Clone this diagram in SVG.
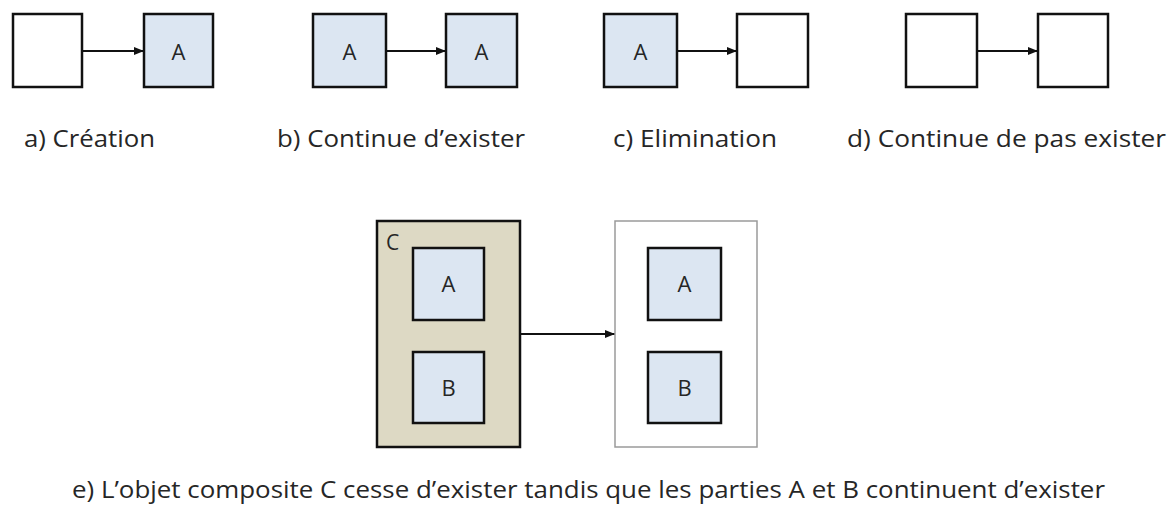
<svg xmlns="http://www.w3.org/2000/svg" width="1168" height="506" viewBox="0 0 1168 506">
<style>
text{font-family:"Open Sans","Liberation Sans",sans-serif;fill:#262626}
.lbl{font-size:23px}
.in{font-size:22px;text-anchor:middle}
.box{stroke:#111;stroke-width:2.5;fill:#fff}
.blue{fill:#dce6f2}
.tan{fill:#ddd9c4}
.thin{stroke:#9a9a9a;stroke-width:1.5;fill:#fff}
.conn{stroke:#111;stroke-width:2;fill:none;marker-end:url(#ah)}
</style>
<defs>
<marker id="ah" markerUnits="userSpaceOnUse" markerWidth="10" markerHeight="8" refX="10" refY="4" orient="auto">
<path d="M0,0 L10,4 L0,8 z" fill="#111"/>
</marker>
</defs>
<rect width="1168" height="506" fill="#fff"/>
<g id="connectors">
<line class="conn" x1="82" y1="51" x2="144" y2="51"/>
<line class="conn" x1="386" y1="51" x2="446" y2="51"/>
<line class="conn" x1="677" y1="51" x2="737" y2="51"/>
<line class="conn" x1="977" y1="51" x2="1038" y2="51"/>
<line class="conn" x1="520" y1="334" x2="615" y2="334"/>
</g>
<g id="a1"><rect class="box" x="13" y="14" width="69" height="73"/></g>
<g id="a2"><rect class="box blue" x="144" y="14" width="69" height="73"/><text class="in" x="178.5" y="60">A</text></g>
<g id="b1"><rect class="box blue" x="313" y="14" width="73" height="73"/><text class="in" x="349.5" y="60">A</text></g>
<g id="b2"><rect class="box blue" x="446" y="14" width="71" height="73"/><text class="in" x="481.5" y="60">A</text></g>
<g id="c1"><rect class="box blue" x="604" y="14" width="73" height="73"/><text class="in" x="640.5" y="60">A</text></g>
<g id="c2"><rect class="box" x="737" y="14" width="71" height="73"/></g>
<g id="d1"><rect class="box" x="906" y="14" width="71" height="73"/></g>
<g id="d2"><rect class="box" x="1038" y="14" width="70" height="73"/></g>
<g id="labels">
<text class="lbl" x="24" y="147" textLength="131" lengthAdjust="spacingAndGlyphs">a) Création</text>
<text class="lbl" x="277" y="147" textLength="248" lengthAdjust="spacingAndGlyphs">b) Continue d’exister</text>
<text class="lbl" x="613" y="147" textLength="164" lengthAdjust="spacingAndGlyphs">c) Elimination</text>
<text class="lbl" x="847" y="147" textLength="319" lengthAdjust="spacingAndGlyphs">d) Continue de pas exister</text>
<text class="lbl" x="72" y="498" textLength="1033" lengthAdjust="spacingAndGlyphs">e) L’objet composite C cesse d’exister tandis que les parties A et B continuent d’exister</text>
</g>
<g id="C">
<rect class="box tan" x="377" y="221" width="143" height="226"/>
<text style="font-size:21px" x="386" y="250">C</text>
</g>
<g id="eA1"><rect class="box blue" x="413" y="248" width="71" height="72"/><text class="in" x="448.5" y="292">A</text></g>
<g id="eB1"><rect class="box blue" x="413" y="352" width="71" height="71"/><text class="in" x="448.5" y="396">B</text></g>
<g id="E2"><rect class="thin" x="615" y="221" width="142" height="226"/></g>
<g id="eA2"><rect class="box blue" x="648" y="248" width="73" height="72"/><text class="in" x="684.5" y="292">A</text></g>
<g id="eB2"><rect class="box blue" x="648" y="352" width="73" height="71"/><text class="in" x="684.5" y="396">B</text></g>
</svg>
